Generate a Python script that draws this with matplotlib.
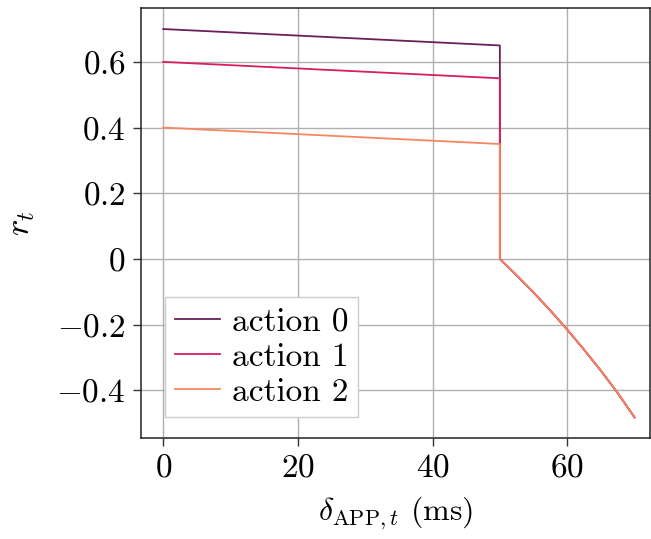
import matplotlib
matplotlib.use("Agg")
import matplotlib.pyplot as plt
import numpy as np

plt.rcParams['font.family'] = 'serif'
plt.rcParams['font.serif'] = ['cmr10', 'DejaVu Serif']
plt.rcParams['mathtext.fontset'] = 'cm'
plt.rcParams['axes.unicode_minus'] = True
plt.rcParams['axes.formatter.use_mathtext'] = True

# data
labels = ["action 0", "action 1", "action 2"]
start_vals = [0.7, 0.6, 0.4]
end_vals = [0.65, 0.55, 0.35]
x_drop = [50, 52.5, 55, 57.5, 60, 62.5, 65, 67.5, 70]
y_drop = [0.0, -0.05, -0.102, -0.157, -0.215, -0.276, -0.34, -0.408, -0.482]
colors = ['#6a1f5a', '#d81e5b', '#f7875f']
xticks = [0, 20, 40, 60]
yticks = [-0.4, -0.2, 0, 0.2, 0.4, 0.6]
ytick_labels = [r'$-0.4$', r'$-0.2$', r'$0$', r'$0.2$', r'$0.4$', r'$0.6$']

fig = plt.figure(figsize=(6.51, 5.39), dpi=100)
ax = fig.add_axes([141/651, 1-438/539, (650-141)/651, (438-8)/539])

for lab, s, e, c in zip(labels, start_vals, end_vals, colors):
    xs = [0, 50] + x_drop
    ys = [s, e] + y_drop
    ax.plot(xs, ys, color=c, lw=1.3, label=lab)

ax.set_xlim(-3.3, 72.3)
ax.set_ylim(-0.545, 0.764)
ax.set_xticks(xticks)
ax.set_xticklabels([rf'${t}$' for t in xticks])
ax.set_yticks(yticks)
ax.set_yticklabels(ytick_labels)
ax.tick_params(labelsize=24, direction='out', length=6, width=1, color='#333333', pad=5)
ax.grid(True, color='#b0b0b0', lw=1)
ax.set_axisbelow(True)
for sp in ax.spines.values():
    sp.set_linewidth(1.1)
    sp.set_color('#222222')

ax.set_xlabel(r'$\delta_{\mathrm{APP},t}$ (ms)', fontsize=23, labelpad=9)
ax.set_ylabel(r'$r_t$', fontsize=25, labelpad=14)

leg = ax.legend(loc='lower left', bbox_to_anchor=(0.047, 0.049), fontsize=24,
                frameon=True, fancybox=False, edgecolor='#cccccc', framealpha=1,
                handlelength=1.35, handletextpad=0.35, borderpad=0.3, labelspacing=0.18,
                borderaxespad=0)
leg.get_frame().set_linewidth(1)

fig.savefig('out.png', dpi=100)
